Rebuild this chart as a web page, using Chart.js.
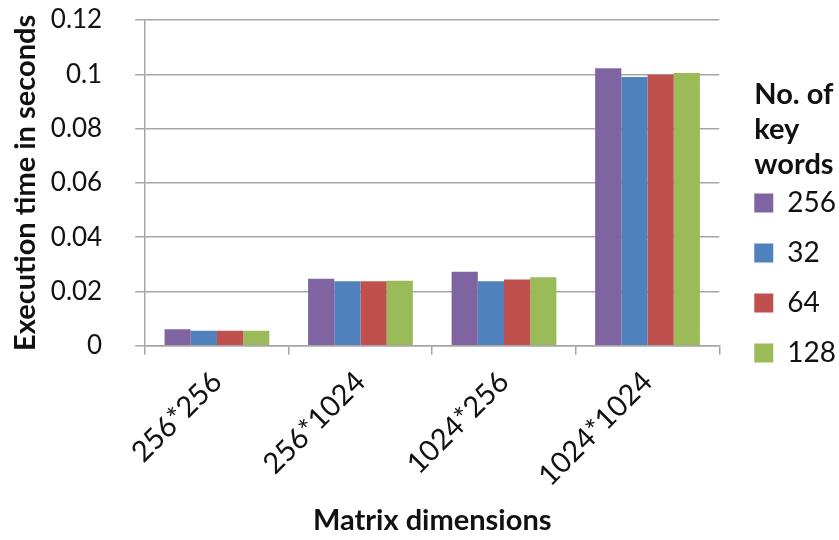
<!DOCTYPE html>
<html>
<head>
<meta charset="utf-8">
<style>
  html, body { margin: 0; padding: 0; background: #fff; }
  #wrap { width: 839px; height: 540px; }
</style>
</head>
<body>
<div id="wrap"><canvas id="timeChart" width="839" height="540"></canvas></div>

<script src="https://cdn.jsdelivr.net/npm/chart.js"></script>
<script>
  // matrix sizes on the x axis
  const matrixSizes = ['256*256', '256*1024', '1024*256', '1024*1024'];
  // number of key words, one series each
  const keyWords = ['256', '32', '64', '128'];
  const time256 = [0.0061, 0.0247, 0.0273, 0.1022];
  const time32  = [0.0055, 0.0238, 0.0238, 0.0990];
  const time64  = [0.0055, 0.0238, 0.0244, 0.0998];
  const time128 = [0.0055, 0.0239, 0.0252, 0.1005];
  const yTickLabels = ['0', '0.02', '0.04', '0.06', '0.08', '0.1', '0.12'];
  const legendTitle = ['No. of', 'key', 'words'];

  const colors = ['#8064A2', '#4F81BD', '#C0504D', '#9BBB59'];
  const series = [time256, time32, time64, time128];
  const fontFamily = 'Lato, "Open Sans", sans-serif';
  const gridGray = '#a6a6a6';
  const legendPad = 22;
  const titleSize = 29;
  const titleLine = 35;
  const titleTop = 60;

  // push the legend away from the plot; the legend title is drawn by hand
  // so its lines sit left-aligned with the colour boxes
  const legendTweak = {
    id: 'legendTweak',
    afterLayout(chart) {
      chart.legend.left += 13;
      chart.legend.right += 13;
    },
    afterDraw(chart) {
      const lg = chart.legend;
      const c = chart.ctx;
      c.save();
      c.font = 'bold ' + titleSize + 'px ' + fontFamily;
      c.fillStyle = '#111';
      c.textAlign = 'left';
      c.textBaseline = 'middle';
      legendTitle.forEach((line, i) => {
        c.fillText(line, lg.left + legendPad, lg.top + titleTop + titleSize / 2 + i * titleLine);
      });
      c.restore();
    }
  };

  const ctx = document.getElementById('timeChart').getContext('2d');
  new Chart(ctx, {
    type: 'bar',
    data: {
      labels: matrixSizes,
      datasets: series.map((vals, i) => ({
        label: keyWords[i],
        data: vals,
        backgroundColor: colors[i],
        borderWidth: 0,
        categoryPercentage: 0.73,
        barPercentage: 1.0
      }))
    },
    plugins: [legendTweak],
    options: {
      responsive: false,
      animation: false,
      layout: { padding: { top: 20, left: 8, right: 6, bottom: 2 } },
      plugins: {
        tooltip: { enabled: false },
        legend: {
          position: 'right',
          align: 'start',
          // empty title only reserves the room above the items
          title: {
            display: true,
            text: '',
            font: { family: fontFamily, size: titleSize, lineHeight: titleLine / titleSize },
            padding: { top: titleTop, bottom: 52 }
          },
          labels: {
            color: '#111',
            boxWidth: 19,
            boxHeight: 19,
            padding: legendPad,
            font: { family: fontFamily, size: 28 }
          }
        }
      },
      scales: {
        x: {
          grid: { display: true, drawOnChartArea: false, drawTicks: true, tickLength: 9, color: gridGray, lineWidth: 1.5 },
          border: { color: gridGray, width: 1.5 },
          ticks: {
            color: '#111',
            maxRotation: 45,
            minRotation: 45,
            padding: 10,
            font: { family: fontFamily, size: 29 }
          },
          // labels overlap the reserved band a little, leave the plot taller
          afterFit(scale) { scale.height -= 4; },
          title: {
            display: true,
            text: 'Matrix dimensions',
            color: '#111',
            padding: { top: 4, bottom: 0 },
            font: { family: fontFamily, size: 29, weight: 'bold' }
          }
        },
        y: {
          min: 0,
          max: 0.12,
          // long tick, dashed so only the 10px next to the axis shows
          grid: { color: gridGray, lineWidth: 1.5, tickLength: 43, tickBorderDash: [0, 33, 10, 0] },
          border: { color: gridGray, width: 1.5 },
          ticks: {
            stepSize: 0.02,
            color: '#111',
            padding: 0,
            font: { family: fontFamily, size: 26 },
            callback: (v, i) => yTickLabels[i]
          },
          title: {
            display: true,
            text: 'Execution time in seconds',
            color: '#111',
            padding: { top: 0, bottom: 8 },
            font: { family: fontFamily, size: 29, weight: 'bold' }
          }
        }
      }
    }
  });
</script>
</body>
</html>
